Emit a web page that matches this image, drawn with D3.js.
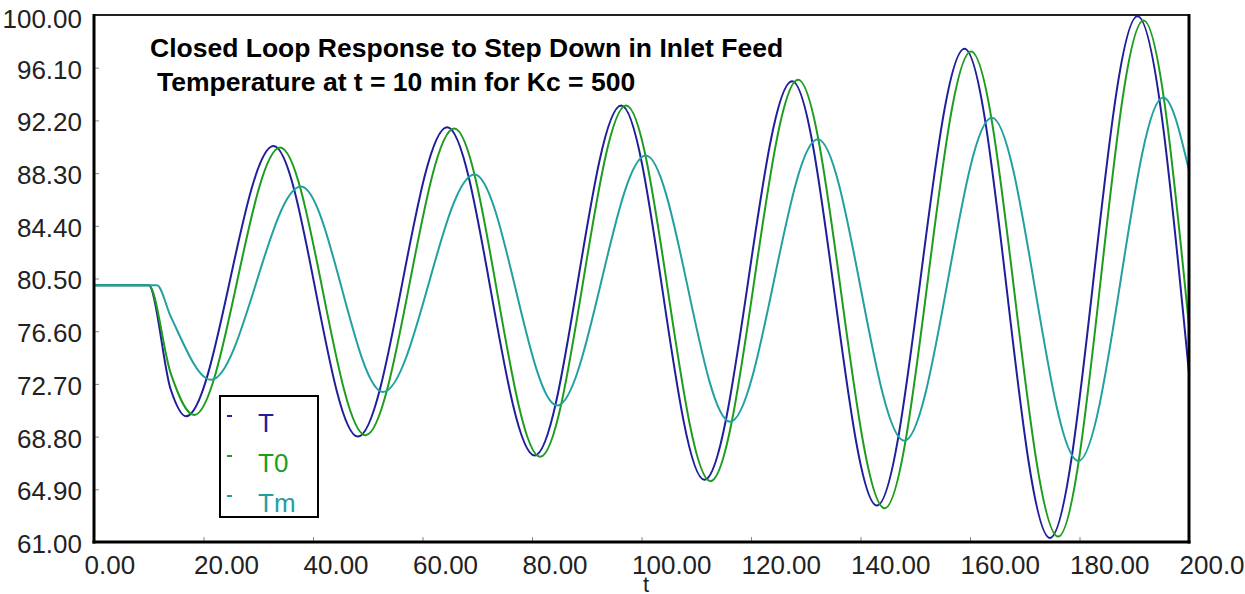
<!DOCTYPE html>
<html>
<head>
<meta charset="utf-8">
<script src="https://cdn.jsdelivr.net/npm/d3@7"></script>
<style>
  html, body { margin: 0; padding: 0; background: #fff; overflow: hidden; }
  text { font-family: "Liberation Sans", Arial, sans-serif; }
</style>
</head>
<body>
<div id="chart"></div>
<script>
// values (time in min, temperature)
const tT  = [0, 10, 14, 16.8, 32.8, 48.2, 64.5, 80.5, 96.3, 111.5, 127.5, 143.0, 159.0, 174.6, 190.6, 200];
const vT  = [80.0, 80.0, 72.3, 70.3, 90.3, 68.8, 91.7, 67.4, 93.3, 65.6, 95.1, 63.7, 97.5, 61.3, 99.9, 73.5];

const tT0 = [0, 10, 14, 18.3, 34.0, 49.6, 65.8, 81.5, 97.2, 112.6, 128.6, 144.4, 160.2, 176.1, 191.7, 200];
const vT0 = [80.0, 80.0, 73.5, 70.4, 90.2, 68.9, 91.6, 67.3, 93.3, 65.5, 95.2, 63.5, 97.3, 61.4, 99.6, 77.0];

const tTm = [0, 11.5, 14, 21.4, 37.8, 52.8, 69.5, 84.6, 100.8, 116.2, 132.2, 148.0, 164.0, 179.8, 195.3, 200];
const vTm = [80.0, 80.0, 77.7, 73.0, 87.3, 72.1, 88.2, 71.1, 89.6, 69.9, 90.8, 68.5, 92.4, 67.0, 93.9, 88.5];

const seriesNames  = ["T", "T0", "Tm"];
const seriesColors = ["#1f1f9c", "#1e9c1e", "#22a0a0"];

const yTicks = [61.0, 64.9, 68.8, 72.7, 76.6, 80.5, 84.4, 88.3, 92.2, 96.1, 100.0];
const xTicks = [0, 20, 40, 60, 80, 100, 120, 140, 160, 180, 200];

const titleLines = ["Closed Loop Response to Step Down in Inlet Feed",
                    "Temperature at t = 10 min for Kc = 500"];

const width = 1245, height = 594;
const margin = {top: 15, right: 56, bottom: 52, left: 94};

const svg = d3.select("#chart").append("svg")
  .attr("width", width)
  .attr("height", height);

const x = d3.scaleLinear().domain([0, 200]).range([margin.left, width - margin.right]);
const y = d3.scaleLinear().domain([61, 100]).range([height - margin.bottom, margin.top]);

svg.append("clipPath").attr("id", "plot")
  .append("rect")
  .attr("x", x(0)).attr("y", y(100))
  .attr("width", x(200) - x(0)).attr("height", y(61) - y(100));

// y axis, ticks point inward
svg.append("g")
  .attr("transform", `translate(${x(0)},0)`)
  .call(d3.axisLeft(y).tickValues(yTicks).tickSize(-5).tickPadding(12).tickFormat(d => d.toFixed(2)))
  .call(g => g.select(".domain").remove())
  .call(g => g.selectAll(".tick line").attr("stroke", "#888"))
  .call(g => g.selectAll(".tick text")
    .attr("font-size", 26)
    .attr("fill", "#222")
    .attr("font-family", null)
    .attr("dy", (d, i) => i == yTicks.length - 1 ? "0.48em" : "0.40em"));

// x axis
svg.append("g")
  .attr("transform", `translate(0,${y(61)})`)
  .call(d3.axisBottom(x).tickValues(xTicks).tickSize(-5).tickPadding(14).tickFormat(d => d.toFixed(2)))
  .call(g => g.select(".domain").remove())
  .call(g => g.selectAll(".tick line").attr("stroke", "#888"))
  .call(g => g.selectAll(".tick text")
    .attr("font-size", 26)
    .attr("fill", "#222")
    .attr("font-family", null)
    .attr("text-anchor", "start")
    .attr("x", -10));

svg.append("text")
  .attr("x", 646).attr("y", 592)
  .attr("text-anchor", "middle")
  .attr("font-size", 22)
  .attr("fill", "#222")
  .text("t");

// curves
const line = d3.line()
  .x(d => x(d[0]))
  .y(d => y(d[1]))
  .curve(d3.curveMonotoneX);

const series = [
  d3.zip(tT, vT),
  d3.zip(tT0, vT0),
  d3.zip(tTm, vTm)
];

svg.append("g")
  .attr("clip-path", "url(#plot)")
  .selectAll("path")
  .data(series)
  .join("path")
    .attr("d", line)
    .attr("fill", "none")
    .attr("stroke", (d, i) => seriesColors[i])
    .attr("stroke-width", 2);

// frame
const frame = svg.append("g").attr("stroke", "#000").attr("fill", "none");
frame.append("line").attr("x1", x(0)).attr("x2", x(200)).attr("y1", y(100)).attr("y2", y(100)).attr("stroke-width", 2).attr("stroke", "#222");
frame.append("line").attr("x1", x(200)).attr("x2", x(200)).attr("y1", y(100) - 1).attr("y2", y(61) + 1.5).attr("stroke-width", 3);
frame.append("line").attr("x1", x(0)).attr("x2", x(0)).attr("y1", y(100) - 1).attr("y2", y(61) + 1.5).attr("stroke-width", 3);
frame.append("line").attr("x1", x(0) - 1.5).attr("x2", x(200) + 1.5).attr("y1", y(61)).attr("y2", y(61)).attr("stroke-width", 3);

// title
svg.selectAll(".title")
  .data(titleLines)
  .join("text")
    .attr("class", "title")
    .attr("x", (d, i) => i == 0 ? 150 : 157)
    .attr("y", (d, i) => i == 0 ? 57 : 91)
    .attr("font-size", 26.5)
    .attr("font-weight", "bold")
    .attr("fill", "#000")
    .text(d => d);

// legend
const legend = svg.append("g").attr("transform", "translate(220,396)");
legend.append("rect")
  .attr("width", 98).attr("height", 121)
  .attr("fill", "#fff").attr("stroke", "#000").attr("stroke-width", 2);

const item = legend.selectAll(".item")
  .data(seriesNames)
  .join("g")
    .attr("class", "item")
    .attr("transform", (d, i) => `translate(0,${20 + i * 40})`);

item.append("line")
  .attr("x1", 7).attr("x2", 12)
  .attr("stroke", (d, i) => seriesColors[i])
  .attr("stroke-width", 2);

item.append("text")
  .attr("x", 38).attr("y", 16)
  .attr("font-size", 26)
  .attr("fill", (d, i) => seriesColors[i])
  .text(d => d);
</script>
</body>
</html>
